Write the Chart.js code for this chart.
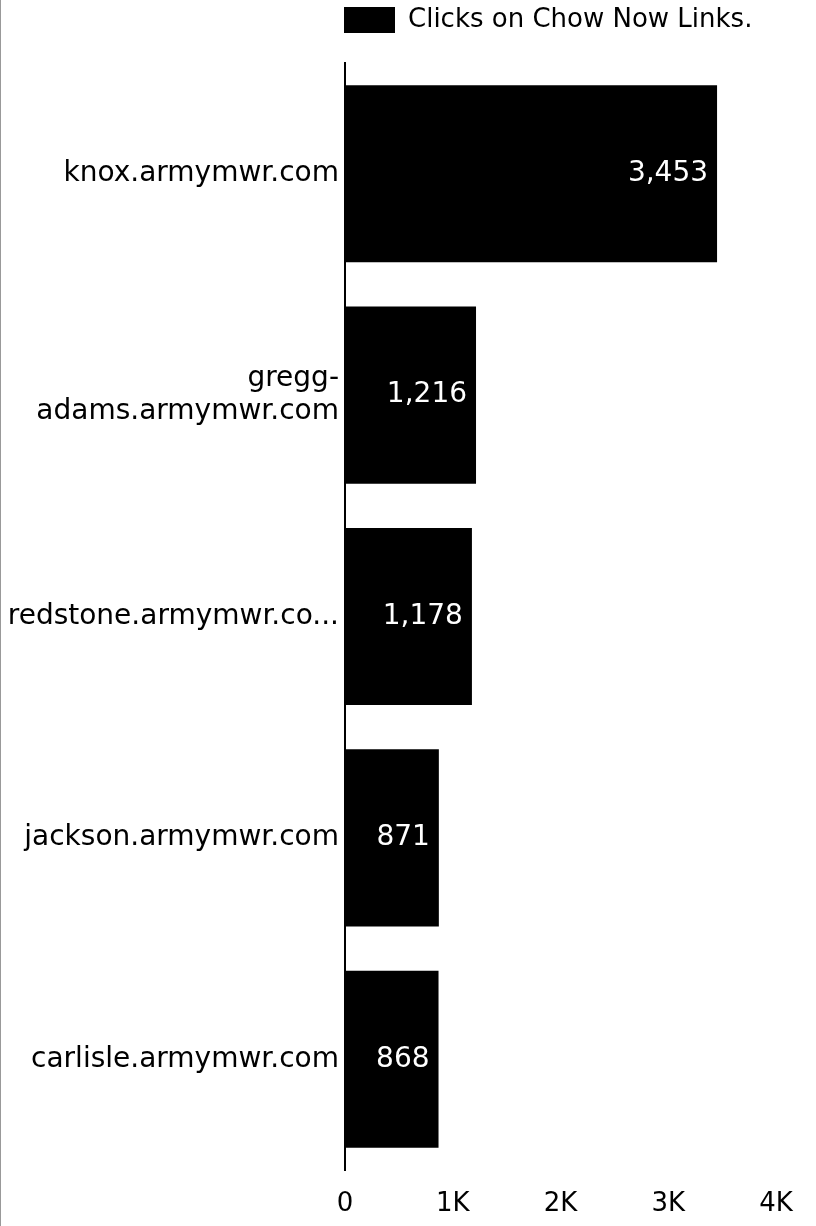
<!DOCTYPE html>
<html>
<head>
<meta charset="utf-8">
<script src="https://cdn.jsdelivr.net/npm/chart.js@4"></script>
<style>
  body { margin: 0; background: #fff; }
  #wrap { width: 815px; height: 1226px; border-left: 1px solid #999; position: relative; }
</style>
</head>
<body>
<div id="wrap"><canvas id="myChart"></canvas></div>
<script>
// donnees du graphique
const sites = ['knox.armymwr.com', ['gregg-', 'adams.armymwr.com'], 'redstone.armymwr.co...', 'jackson.armymwr.com', 'carlisle.armymwr.com'];
const clicks = [3453, 1216, 1178, 871, 868];
const xTicks = [0, 1000, 2000, 3000, 4000];
const xTickLabels = ['0', '1K', '2K', '3K', '4K'];

const fontName = 'DejaVu Sans';

// plugin maison pour ecrire la valeur dans la barre
const valueLabels = {
    id: 'valueLabels',
    afterDatasetsDraw(chart) {
        const ctx = chart.ctx;
        const meta = chart.getDatasetMeta(0);
        ctx.save();
        ctx.fillStyle = '#fff';
        ctx.font = '28px "' + fontName + '"';
        ctx.textAlign = 'right';
        ctx.textBaseline = 'middle';
        meta.data.forEach((bar, i) => {
            ctx.fillText(clicks[i].toLocaleString('en-US'), bar.x - 9, bar.y);
        });
        ctx.restore();
    }
};

// espace sous la legende + alignement sur l'axe
const legendGap = {
    id: 'legendGap',
    beforeInit(chart) {
        const fit = chart.legend.fit;
        chart.legend.fit = function () {
            fit.bind(chart.legend)();
            this.height += 20;
        };
    },
    afterLayout(chart) {
        chart.legend.left -= 8;
        chart.legend.right -= 8;
    }
};

let ctx = document.getElementById('myChart').getContext('2d');
let myChart = new Chart(ctx, {
    type: 'bar',
    data: {
        labels: sites,
        datasets: [{
            label: 'Clicks on Chow Now Links.',
            data: clicks,
            backgroundColor: '#000',
            borderWidth: 0,
            barPercentage: 0.8,
            categoryPercentage: 1
        }]
    },
    options: {
        indexAxis: 'y',
        responsive: true,
        maintainAspectRatio: false,
        animation: false,
        layout: { padding: { top: 0, right: 40, bottom: 0, left: 0 } },
        plugins: {
            legend: {
                align: 'start',
                fullSize: false,
                labels: {
                    color: '#000',
                    font: { family: fontName, size: 26 },
                    boxWidth: 51,
                    boxHeight: 26,
                    padding: 7
                },
                onClick: null
            },
            tooltip: { enabled: false }
        },
        scales: {
            x: {
                min: 0,
                max: 4000,
                afterBuildTicks: axis => { axis.ticks = xTicks.map(v => ({ value: v })); },
                ticks: {
                    color: '#000',
                    font: { family: fontName, size: 26 },
                    padding: 19,
                    callback: (v, i) => xTickLabels[i]
                },
                grid: { display: false, drawTicks: false },
                border: { display: false },
                afterFit: axis => { axis.height = 56; }
            },
            y: {
                ticks: {
                    color: '#000',
                    font: { family: fontName, size: 28 },
                    padding: 6
                },
                grid: { display: false, drawTicks: false },
                border: { display: true, color: '#000', width: 2 },
                afterFit: axis => { axis.width = 344; }
            }
        }
    },
    plugins: [valueLabels, legendGap]
});
</script>
</body>
</html>
